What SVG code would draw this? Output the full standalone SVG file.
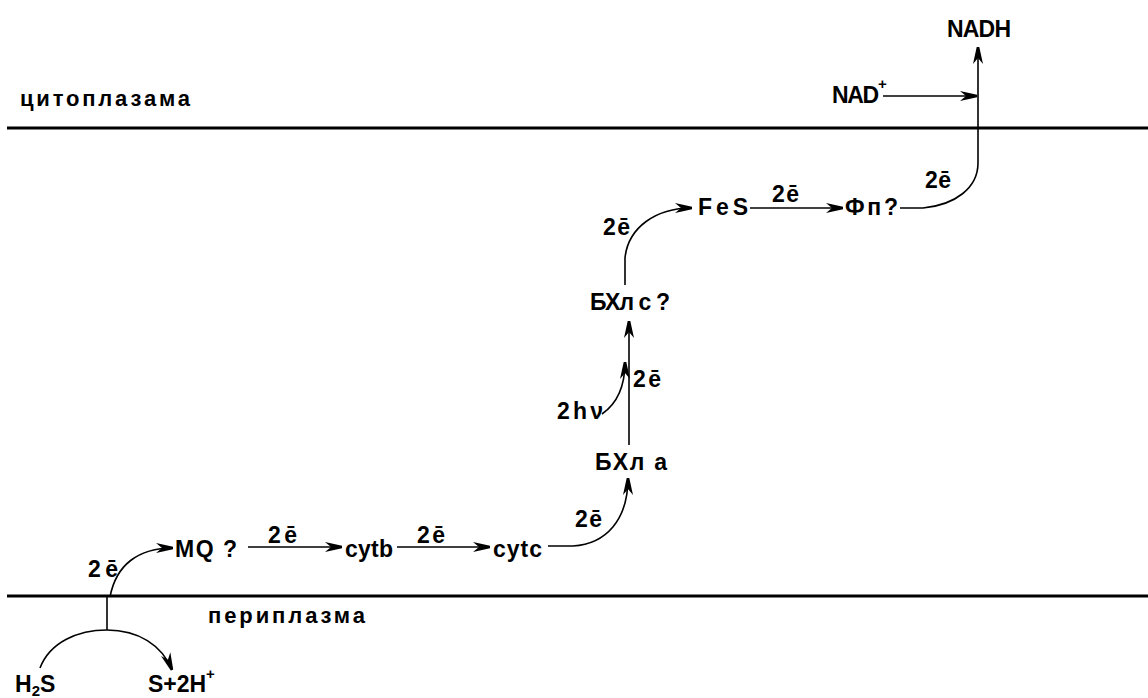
<svg xmlns="http://www.w3.org/2000/svg" width="1148" height="698" viewBox="0 0 1148 698">
<style>
text{font-family:"Liberation Sans",Arial,sans-serif;font-weight:bold;font-size:23px;fill:#000}
.reg{font-size:22px}
.sm{font-size:15px}
.mem{stroke:#000;stroke-width:3;fill:none}
.c{stroke:#000;stroke-width:1.6;fill:none}
.a{marker-end:url(#ah)}
</style>
<defs>
<marker id="ah" markerUnits="userSpaceOnUse" markerWidth="22" markerHeight="12" viewBox="-20 -6 22 12" refX="0" refY="0" orient="auto">
<path d="M-17,-5 L-11,0 L-17,5 L0,1.3 L0,-1.3 Z" fill="#000"/>
</marker>
</defs>
<rect width="1148" height="698" fill="#fff"/>
<g id="membranes">
<line class="mem" x1="7" y1="128" x2="1148" y2="128"/>
<line class="mem" x1="7" y1="596" x2="1148" y2="596"/>
</g>
<g id="connectors">
<path class="c" d="M107,596 L107,630"/>
<path class="c" d="M40,668 C50,642 78,630 107,630"/>
<path class="c a" d="M107,630 C138,630 162,645 172,670"/>
<path class="c a" d="M110,597 C116,565 138,548 173,548"/>
<path class="c a" d="M248,547 L342,547"/>
<path class="c a" d="M397,547 L490,547"/>
<path class="c a" d="M548,546 L573,546 C606,544 628,520 628,478"/>
<path class="c a" d="M629,445 L629,321"/>
<path class="c a" d="M602,414 C615,405 625,390 625,362"/>
<path class="c a" d="M625,285 L625,258 C628,228 655,208 692,208"/>
<path class="c a" d="M750,208 L843,208"/>
<path class="c a" d="M900,208 L923,208 C955,205 978,188 978,163 L978,47"/>
<path class="c a" d="M883,96 L977,96"/>
</g>
<g id="label-cytoplasm"><text class="reg" x="20" y="106" textLength="170" lengthAdjust="spacing">цитоплазама</text></g>
<g id="label-periplasm"><text class="reg" x="208" y="623" textLength="157" lengthAdjust="spacing">периплазма</text></g>
<g id="node-nadh"><text x="947" y="37" textLength="64" lengthAdjust="spacing">NADH</text></g>
<g id="node-nad"><text x="832" y="103" textLength="47" lengthAdjust="spacing">NAD</text><text class="sm" x="878" y="89">+</text></g>
<g id="node-fp"><text x="845" y="215" textLength="53" lengthAdjust="spacing">Фп?</text></g>
<g id="node-fes"><text x="698" y="215" textLength="50" lengthAdjust="spacing">FeS</text></g>
<g id="node-bchlc"><text x="590" y="310" textLength="80" lengthAdjust="spacing">БХл с ?</text></g>
<g id="node-bchla"><text x="595" y="470" textLength="72" lengthAdjust="spacing">БХл а</text></g>
<g id="node-hv"><text x="557" y="419" textLength="46" lengthAdjust="spacing">2hν</text></g>
<g id="node-cytc"><text x="493" y="557" textLength="49" lengthAdjust="spacing">cytc</text></g>
<g id="node-cytb"><text x="345" y="557" textLength="48" lengthAdjust="spacing">cytb</text></g>
<g id="node-mq"><text x="175" y="557" textLength="62" lengthAdjust="spacing">MQ ?</text></g>
<g id="node-h2s"><text x="15" y="692">H<tspan class="sm" dy="4">2</tspan><tspan dy="-4">S</tspan></text></g>
<g id="node-s2h"><text x="148" y="692" textLength="58" lengthAdjust="spacing">S+2H</text><text class="sm" x="206" y="679">+</text></g>
<g id="electron-labels">
<text x="925" y="188" textLength="26" lengthAdjust="spacing">2ē</text>
<text x="772" y="202" textLength="27" lengthAdjust="spacing">2ē</text>
<text x="603" y="235" textLength="27" lengthAdjust="spacing">2ē</text>
<text x="633" y="387" textLength="28" lengthAdjust="spacing">2ē</text>
<text x="575" y="527" textLength="27" lengthAdjust="spacing">2ē</text>
<text x="417" y="543" textLength="28" lengthAdjust="spacing">2ē</text>
<text x="268" y="543" textLength="29" lengthAdjust="spacing">2ē</text>
<text x="88" y="577" textLength="30" lengthAdjust="spacing">2ē</text>
</g>
</svg>
